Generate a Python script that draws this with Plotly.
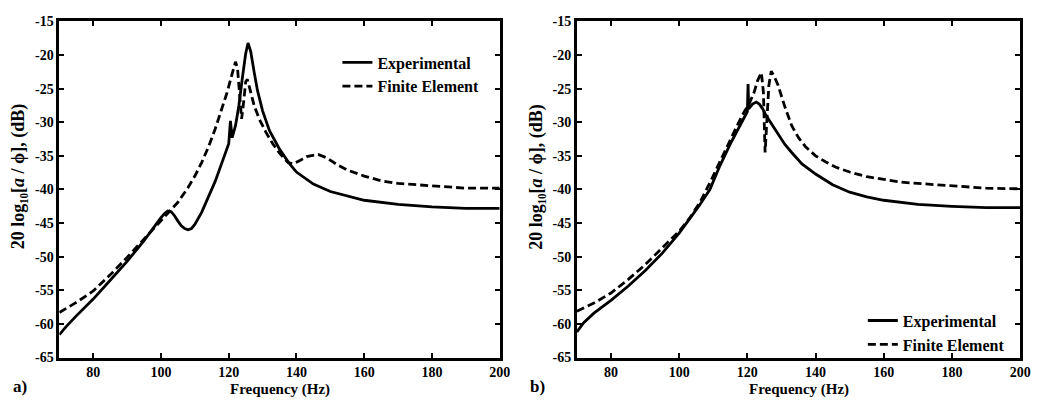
import plotly.graph_objects as go

# ---- panel a) -------------------------------------------------------------
freq_exp_a = [70, 72, 75, 80, 85, 90, 95, 98, 100, 101, 102, 103, 104, 105, 106, 107, 108,
              109, 110, 112, 114, 116, 118, 119, 120, 120.5, 121, 122, 123, 124, 125, 125.7,
              126.5, 127.5, 128.5, 130, 132, 135, 138, 140, 145, 150, 155, 160, 170, 180,
              190, 200]
db_exp_a = [-61.6, -60.4, -58.8, -56.3, -53.5, -50.7, -47.6, -45.5, -44.2, -43.6, -43.2,
            -43.3, -43.9, -44.7, -45.4, -45.8, -46.0, -45.8, -45.2, -43.4, -41.2, -38.8,
            -36.0, -34.5, -33.2, -29.8, -32.3, -30.5, -27.5, -23.5, -19.8, -18.2, -19.5,
            -22.5, -25.3, -28.3, -31.2, -34.0, -36.2, -37.4, -39.2, -40.3, -41.0, -41.6,
            -42.2, -42.6, -42.8, -42.8]

freq_fe_a = [70, 75, 80, 85, 90, 95, 100, 102.6, 105, 108, 110, 112, 114, 116, 118, 119.5,
             121, 122, 122.6, 123.2, 123.8, 124.4, 125, 125.5, 126.5, 127.5, 129, 131, 133,
             135, 137.5, 139, 141, 143, 146.4, 149, 152, 155, 160, 165, 170, 180, 190, 200]
db_fe_a = [-58.3, -56.8, -55.1, -52.7, -50.1, -47.4, -44.6, -43.2, -41.9, -39.7, -38.0,
           -36.0, -33.7, -31.0, -28.0, -25.6, -22.8, -21.0, -22.0, -26.5, -29.5, -27.0,
           -24.0, -23.6, -25.5, -27.5, -29.5, -31.5, -33.2, -34.6, -36.0, -36.2, -35.7,
           -35.1, -34.8, -35.3, -36.3, -37.1, -38.0, -38.7, -39.1, -39.5, -39.8, -39.8]

# ---- panel b) -------------------------------------------------------------
freq_exp_b = [70, 72, 75, 80, 85, 90, 95, 100, 103, 106, 109, 112, 115, 117, 119, 120,
              120.2, 120.4, 121.5, 122.6, 123.5, 124.5, 125.5, 127, 129, 131, 133, 136,
              140, 145, 150, 155, 160, 170, 180, 190, 200]
db_exp_b = [-61.2, -59.8, -58.4, -56.5, -54.4, -52.1, -49.5, -46.5, -44.4, -42.3, -40.0,
            -36.4, -33.2, -31.2, -29.2, -28.4, -24.3, -28.0, -27.3, -27.0, -27.3, -28.0,
            -29.0, -30.2, -31.9, -33.3, -34.5, -36.2, -37.7, -39.3, -40.4, -41.1, -41.6,
            -42.2, -42.5, -42.7, -42.7]

freq_fe_b = [70, 75, 80, 85, 90, 95, 100, 103, 106, 109, 112, 115, 117, 119, 120.5, 122,
             123, 124.1, 124.7, 125.2, 125.7, 126.3, 127, 128, 129, 131, 133, 135, 137,
             140, 143, 146, 150, 155, 160, 165, 170, 180, 190, 200]
db_fe_b = [-58.1, -56.9, -55.4, -53.4, -51.2, -48.7, -46.2, -44.3, -42.0, -39.0, -35.8,
           -32.5, -30.5, -28.5, -27.3, -25.5, -23.8, -22.6, -25.5, -34.5, -29.5, -24.5,
           -22.4, -23.3, -24.5, -27.7, -30.5, -32.3, -33.6, -35.0, -35.9, -36.7, -37.4,
           -38.1, -38.5, -38.9, -39.1, -39.5, -39.8, -39.9]

# ---- axes ticks and labels ------------------------------------------------
x_ticks = [80, 100, 120, 140, 160, 180, 200]
x_tick_text = ["80", "100", "120", "140", "160", "180", "200"]
y_ticks = [-65, -60, -55, -50, -45, -40, -35, -30, -25, -20, -15]
y_tick_text = ["-65", "-60", "-55", "-50", "-45", "-40", "-35", "-30", "-25", "-20", "-15"]

series_names = ["Experimental", "Finite Element"]
x_title = "Frequency (Hz)"
y_title = "20 log₁₀[<i>a</i> / ϕ], (dB)"
panel_tags = ["a)", "b)"]

W, H = 1047, 406
SERIF = "Liberation Serif"


def serif(size):
    return dict(family=SERIF, size=size, color="black", weight="bold")


# pixel geometry of the two plotting boxes
left_box = (60, 505)
right_box = (583, 1031)
top_px, bottom_px = 15, 364


def px_x(p):
    return p / W


def px_y(p):
    return 1 - p / H


fig = go.Figure()

solid = dict(color="black", width=2.8)
dashed = dict(color="black", width=2.8, dash="8px,4px")

fig.add_trace(go.Scatter(x=freq_exp_a, y=db_exp_a, mode="lines", line=solid,
                         name=series_names[0], xaxis="x", yaxis="y", legend="legend"))
fig.add_trace(go.Scatter(x=freq_fe_a, y=db_fe_a, mode="lines", line=dashed,
                         name=series_names[1], xaxis="x", yaxis="y", legend="legend"))
fig.add_trace(go.Scatter(x=freq_exp_b, y=db_exp_b, mode="lines", line=solid,
                         name=series_names[0], xaxis="x2", yaxis="y2", legend="legend2"))
fig.add_trace(go.Scatter(x=freq_fe_b, y=db_fe_b, mode="lines", line=dashed,
                         name=series_names[1], xaxis="x2", yaxis="y2", legend="legend2"))

axis_common = dict(
    showline=True, linecolor="black", linewidth=2.6, mirror="ticks",
    ticks="inside", ticklen=5, tickwidth=1.6, tickcolor="black",
    showgrid=False, zeroline=False, tickfont=serif(14),
)

y_dom = [px_y(bottom_px), px_y(top_px)]

fig.update_layout(
    width=W, height=H,
    margin=dict(l=0, r=0, t=0, b=0),
    paper_bgcolor="white", plot_bgcolor="white",
    font=serif(14),
    xaxis=dict(domain=[px_x(left_box[0]), px_x(left_box[1])], range=[70, 200],
               tickvals=x_ticks, ticktext=x_tick_text, anchor="y", **axis_common),
    yaxis=dict(domain=y_dom, range=[-65, -15], tickvals=y_ticks, ticktext=y_tick_text,
               anchor="x", **axis_common),
    xaxis2=dict(domain=[px_x(right_box[0]), px_x(right_box[1])], range=[70, 200],
                tickvals=x_ticks, ticktext=x_tick_text, anchor="y2", **axis_common),
    yaxis2=dict(domain=y_dom, range=[-65, -15], tickvals=y_ticks, ticktext=y_tick_text,
                anchor="x2", **axis_common),
    legend=dict(x=px_x(341), y=px_y(40), xanchor="left", yanchor="top",
                bgcolor="rgba(0,0,0,0)", font=serif(16), itemwidth=30, tracegroupgap=0),
    legend2=dict(x=px_x(872), y=px_y(308), xanchor="left", yanchor="top",
                 bgcolor="rgba(0,0,0,0)", font=serif(16), itemwidth=30, tracegroupgap=0),
)

annotations = []
for box, tag in zip([left_box, right_box], panel_tags):
    cx = (box[0] + box[1]) / 2
    annotations.append(dict(text=x_title, x=px_x(cx), y=px_y(397), xref="paper", yref="paper",
                            showarrow=False, xanchor="center", yanchor="middle", font=serif(15)))
    annotations.append(dict(text=y_title, x=px_x(box[0] - 41), y=px_y(176),
                            xref="paper", yref="paper", showarrow=False, textangle=-90,
                            xanchor="center", yanchor="middle", font=serif(18)))
    annotations.append(dict(text=tag, x=px_x(box[0] - 40), y=px_y(394), xref="paper",
                            yref="paper", showarrow=False, xanchor="center", yanchor="middle",
                            font=serif(17)))
fig.update_layout(annotations=annotations)

fig.write_html("out.html")
